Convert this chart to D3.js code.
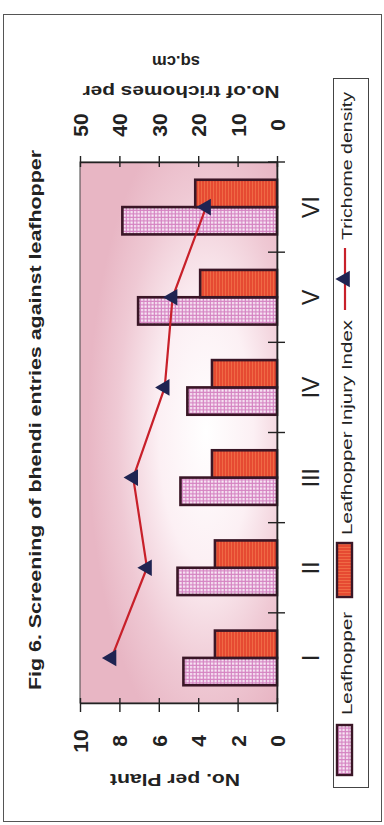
<!DOCTYPE html>
<html><head><meta charset="utf-8">
<script src="https://cdn.jsdelivr.net/npm/d3@7"></script>
<style>html,body{margin:0;padding:0;background:#fff;}svg{display:block}</style>
</head><body>
<script>
// ---- data ----
const categories = ["I", "II", "III", "IV", "V", "VI"];
const leafhopper = [4.75, 5.05, 4.9, 4.55, 7.05, 7.85];
const injuryIndex = [3.15, 3.15, 3.3, 3.3, 3.9, 4.15];
const trichome = [42, 33, 36.5, 28.5, 26.5, 18];
const leftTicks = [0, 2, 4, 6, 8, 10];
const rightTicks = [0, 10, 20, 30, 40, 50];
const seriesNames = ["Leafhopper", "Leafhopper Injury Index", "Trichome density"];
const titleText = "Fig 6. Screening of bhendi entries against leafhopper";
const leftTitle = "No. per Plant";
const rightTitle = ["No.of trichomes per", "sq.cm"];

// ---- layout ----
const W = 384, H = 825;
const P = {left: 80, right: 277, top: 162, bottom: 703};
const FONT = "Arial, 'Liberation Sans', sans-serif";

const svg = d3.select("body").append("svg").attr("width", W).attr("height", H)
  .style("font-family", FONT);
const defs = svg.append("defs");

// plot background gradient
const rg = defs.append("radialGradient").attr("id", "bg")
  .attr("cx", 0.64).attr("cy", 0.5).attr("r", 0.6).attr("fx", 0.64).attr("fy", 0.5);
rg.append("stop").attr("offset", 0).attr("stop-color", "#ffffff");
rg.append("stop").attr("offset", 0.4).attr("stop-color", "#fcf0f4");
rg.append("stop").attr("offset", 0.75).attr("stop-color", "#efc9d4");
rg.append("stop").attr("offset", 1).attr("stop-color", "#e8b6c4");

// checker pattern (Leafhopper)
const pc = defs.append("pattern").attr("id", "check").attr("patternUnits", "userSpaceOnUse")
  .attr("width", 3.5).attr("height", 3.5);
pc.append("rect").attr("width", 3.5).attr("height", 3.5).attr("fill", "#d584c2");
pc.append("rect").attr("x", 1).attr("y", 1).attr("width", 2.2).attr("height", 2.2).attr("fill", "#fbf0f9");

// striped pattern (Injury index)
const ps = defs.append("pattern").attr("id", "stripe").attr("patternUnits", "userSpaceOnUse")
  .attr("width", 3).attr("height", 3);
ps.append("rect").attr("width", 3).attr("height", 3).attr("fill", "#e64a32");
ps.append("rect").attr("x", 0).attr("width", 1).attr("height", 3).attr("fill", "#ef6a45");

// outer border
svg.append("rect").attr("x", 3.5).attr("y", 14.5).attr("width", 378).attr("height", 807)
  .attr("fill", "none").attr("stroke", "#555").attr("stroke-width", 1);

// scales
const x = d3.scaleLinear().domain([0, 10]).range([P.right, P.left]);
const x2 = d3.scaleLinear().domain([0, 50]).range([P.right, P.left]);
const y = d3.scaleBand().domain(categories).range([P.bottom, P.top]);
const bw = y.bandwidth();
const sub = d3.scaleBand().domain([seriesNames[1], seriesNames[0]]).range([0, bw])
  .paddingInner(0).paddingOuter(0.65);

// plot area
svg.append("rect").attr("x", P.left).attr("y", P.top)
  .attr("width", P.right - P.left).attr("height", P.bottom - P.top)
  .attr("fill", "url(#bg)").attr("stroke", "#444").attr("stroke-width", 1);

// bars
const barData = categories.map((c, i) => ({c, lh: leafhopper[i], inj: injuryIndex[i]}));
const g = svg.append("g");
g.selectAll("rect.lh").data(barData).join("rect").attr("class", "lh")
  .attr("x", d => x(d.lh)).attr("width", d => x(0) - x(d.lh))
  .attr("y", d => y(d.c) + sub(seriesNames[0])).attr("height", sub.bandwidth())
  .attr("fill", "url(#check)").attr("stroke", "#3a1626").attr("stroke-width", 2.6);
g.selectAll("rect.inj").data(barData).join("rect").attr("class", "inj")
  .attr("x", d => x(d.inj)).attr("width", d => x(0) - x(d.inj))
  .attr("y", d => y(d.c) + sub(seriesNames[1])).attr("height", sub.bandwidth())
  .attr("fill", "url(#stripe)").attr("stroke", "#3a1626").attr("stroke-width", 2.6);

// axes
const axB = svg.append("g").attr("transform", `translate(0,${P.bottom})`)
  .call(d3.axisBottom(x).tickValues(leftTicks).tickSizeInner(8).tickSizeOuter(0));
const axT = svg.append("g").attr("transform", `translate(0,${P.top})`)
  .call(d3.axisTop(x2).tickValues(rightTicks).tickSizeInner(6).tickSizeOuter(0));
[axB, axT].forEach((ax, k) => {
  ax.select(".domain").attr("stroke", "#222").attr("stroke-width", 1.6);
  ax.selectAll(".tick line").attr("stroke", "#222").attr("stroke-width", 1.4)
    .attr("y1", k === 0 ? -5 : 5).attr("y2", k === 0 ? 9 : -6);
  ax.selectAll(".tick text")
    .attr("x", 0).attr("y", 0).attr("dy", "0.36em")
    .attr("transform", `translate(0,${k === 0 ? 38 : -37}) rotate(-90)`)
    .attr("text-anchor", "middle")
    .style("font-family", FONT).style("font-size", "21px").style("font-weight", "bold")
    .attr("fill", "#222");
});

const axR = svg.append("g").attr("transform", `translate(${P.right},0)`)
  .call(d3.axisRight(y).tickSize(0));
axR.select(".domain").attr("stroke", "#222").attr("stroke-width", 1.6);
axR.selectAll(".tick text")
  .attr("x", 0).attr("y", 0).attr("dy", "0.36em")
  .attr("transform", `translate(34,0) rotate(-90)`)
  .attr("text-anchor", "middle")
  .style("font-family", FONT).style("font-size", "23px").style("font-weight", "normal")
  .attr("fill", "#222");
// boundary ticks between categories
svg.append("g").selectAll("line").data(categories).join("line")
  .attr("x1", P.right - 9).attr("x2", P.right + 8)
  .attr("y1", d => y(d)).attr("y2", d => y(d))
  .attr("stroke", "#222").attr("stroke-width", 1.4);

// trichome line
const ptData = categories.map((c, i) => ({c, v: trichome[i]}));
const line = d3.line().x(d => x2(d.v)).y(d => y(d.c) + bw / 2);
svg.append("path").datum(ptData).attr("d", line)
  .attr("fill", "none").attr("stroke", "#c8202a").attr("stroke-width", 2.2);
const tri = d3.symbol().type(d3.symbolTriangle).size(120);
svg.append("g").selectAll("path").data(ptData).join("path")
  .attr("d", tri)
  .attr("transform", d => `translate(${x2(d.v)},${y(d.c) + bw / 2}) rotate(-90)`)
  .attr("fill", "#1f2452");

// title
svg.append("text").attr("transform", "translate(41,690) rotate(-90)")
  .attr("x", 0).attr("y", 0)
  .attr("textLength", 540).attr("lengthAdjust", "spacingAndGlyphs")
  .style("font-size", "17px").style("font-weight", "bold").attr("fill", "#222")
  .text(titleText);

// axis titles (upside-down)
svg.append("text").attr("transform", "translate(175,780) rotate(180)")
  .attr("text-anchor", "middle").attr("dy", "0.35em")
  .attr("textLength", 130).attr("lengthAdjust", "spacingAndGlyphs")
  .style("font-size", "17px").style("font-weight", "bold").attr("fill", "#222")
  .text(leftTitle);
svg.append("text").attr("transform", "translate(181,92) rotate(180)")
  .attr("text-anchor", "middle").attr("dy", "0.35em")
  .attr("textLength", 197).attr("lengthAdjust", "spacingAndGlyphs")
  .style("font-size", "17px").style("font-weight", "bold").attr("fill", "#222")
  .text(rightTitle[0]);
svg.append("text").attr("transform", "translate(176,62) rotate(180)")
  .attr("text-anchor", "middle").attr("dy", "0.35em")
  .attr("textLength", 48).attr("lengthAdjust", "spacingAndGlyphs")
  .style("font-size", "17px").style("font-weight", "bold").attr("fill", "#222")
  .text(rightTitle[1]);

// legend
svg.append("rect").attr("x", 333.5).attr("y", 78.5).attr("width", 35).attr("height", 709)
  .attr("fill", "#fff").attr("stroke", "#444").attr("stroke-width", 1);
const lg = svg.append("g").attr("transform", "translate(345,788) rotate(-90)");
const legendItems = [
  {name: seriesNames[0], type: "check", s0: 13, s1: 63, t0: 73, tl: 103},
  {name: seriesNames[1], type: "stripe", s0: 191, s1: 245, t0: 253, tl: 215},
  {name: seriesNames[2], type: "line", s0: 478, s1: 540, t0: 548, tl: 148}
];
legendItems.forEach(it => {
  if (it.type === "line") {
    lg.append("line").attr("x1", it.s0).attr("x2", it.s1).attr("y1", 0).attr("y2", 0)
      .attr("stroke", "#c8202a").attr("stroke-width", 2.2);
    lg.append("path").attr("d", tri)
      .attr("transform", `translate(${(it.s0 + it.s1) / 2},0)`)
      .attr("fill", "#1f2452");
  } else {
    lg.append("rect").attr("x", it.s0).attr("y", -8).attr("width", it.s1 - it.s0).attr("height", 15)
      .attr("fill", `url(#${it.type})`).attr("stroke", "#3a1626").attr("stroke-width", 2.4);
  }
  lg.append("text").attr("x", it.t0).attr("y", 7)
    .attr("textLength", it.tl).attr("lengthAdjust", "spacingAndGlyphs")
    .style("font-size", "14px").attr("fill", "#222").text(it.name);
});
</script>
</body></html>
